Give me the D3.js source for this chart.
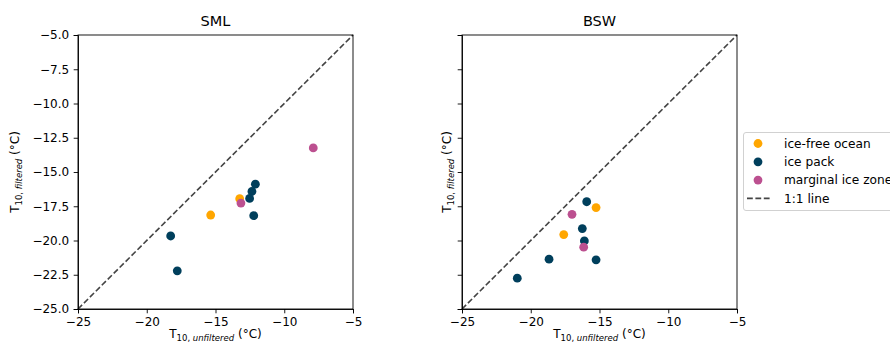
<!DOCTYPE html>
<html>
<head>
<meta charset="utf-8">
<script src="https://cdn.jsdelivr.net/npm/d3@7"></script>
<style>
  body { margin: 0; background: #fff; }
  text { font-family: "DejaVu Sans", sans-serif; fill: #000; }
</style>
</head>
<body>
<svg id="chart" width="890" height="348"></svg>
<script>
// categories and colours
var categories = ["ice-free ocean", "ice pack", "marginal ice zone"];
var catColors = ["#ffa600", "#003f5c", "#bc5090"];

// SML panel: [unfiltered, filtered, category]
var smlX = [-15.35, -13.24, -12.1, -12.35, -12.52, -12.22, -18.26, -17.78, -13.15, -7.89];
var smlY = [-18.14, -16.95, -15.89, -16.42, -16.93, -18.19, -19.67, -22.21, -17.27, -13.24];
var smlCat = [0, 0, 1, 1, 1, 1, 1, 1, 2, 2];

// BSW panel
var bswX = [-15.25, -17.6, -15.93, -16.25, -16.1, -18.67, -15.25, -20.98, -17.0, -16.15];
var bswY = [-17.6, -19.57, -17.17, -19.13, -20.03, -21.36, -21.41, -22.75, -18.09, -20.49];
var bswCat = [0, 0, 1, 1, 1, 1, 1, 1, 2, 2];

var xTicks = [-25, -20, -15, -10, -5];
var yTicks = [-25, -22.5, -20, -17.5, -15, -12.5, -10, -7.5, -5];
var domain = [-25, -5];

var svg = d3.select("#chart");
var minus = function (s) { return s.replace("-", "\u2212"); };

function panel(x0, title, xs, ys, cats, showYLabels) {
    var w = 275, h = 274, top = 35;
    var x = d3.scaleLinear().domain(domain).range([x0, x0 + w]);
    var y = d3.scaleLinear().domain(domain).range([top + h, top]);
    var g = svg.append("g");

    // 1:1 line
    g.append("line")
        .attr("x1", x(-25)).attr("y1", y(-25))
        .attr("x2", x(-5)).attr("y2", y(-5))
        .attr("stroke", "#444").attr("stroke-width", 1.6)
        .attr("stroke-dasharray", "5.8,2.6");

    // points
    g.selectAll("circle")
        .data(xs.map(function (d, i) { return {x: d, y: ys[i], c: cats[i]}; }))
        .enter().append("circle")
        .attr("cx", function (d) { return x(d.x); })
        .attr("cy", function (d) { return y(d.y); })
        .attr("r", 4.4)
        .attr("fill", function (d) { return catColors[d.c]; });

    var xAxis = g.append("g").attr("transform", "translate(0," + (top + h) + ")")
        .call(d3.axisBottom(x).tickValues(xTicks).tickSize(4.3).tickPadding(4)
            .tickFormat(function (d) { return minus(d3.format("d")(d)); }));
    var yAxis = g.append("g").attr("transform", "translate(" + x0 + ",0)")
        .call(d3.axisLeft(y).tickValues(yTicks).tickSize(4.3).tickPadding(4.5)
            .tickFormat(function (d) { return showYLabels ? minus(d3.format(".1f")(d)) : ""; }));
    [xAxis, yAxis].forEach(function (a) {
        a.selectAll("text").style("font-size", "12px").attr("fill", "#000");
        a.select(".domain").attr("stroke", "#000").attr("stroke-width", 0.9);
        a.selectAll(".tick line").attr("stroke", "#000").attr("stroke-width", 0.9);
    });
    // box
    g.append("rect").attr("x", x0).attr("y", top).attr("width", w).attr("height", h)
        .attr("fill", "none").attr("stroke", "#000").attr("stroke-width", 0.9);

    g.append("text").attr("x", x0 + w / 2).attr("y", 26)
        .attr("text-anchor", "middle").style("font-size", "14.5px").text(title);

    var xl = g.append("text").attr("x", x0 + w / 2).attr("y", 338)
        .attr("text-anchor", "middle").style("font-size", "12px");
    xl.append("tspan").text("T");
    xl.append("tspan").attr("dy", 3).style("font-size", "8.5px").text("10, ");
    xl.append("tspan").style("font-size", "8.5px").style("font-style", "italic").text("unfiltered");
    xl.append("tspan").attr("dy", -3).text(" (\u00b0C)");

    var yx = showYLabels ? 19 : x0 - 11;
    var yl = g.append("text").attr("transform", "translate(" + yx + "," + (top + h / 2) + ") rotate(-90)")
        .attr("text-anchor", "middle").style("font-size", "12px");
    yl.append("tspan").text("T");
    yl.append("tspan").attr("dy", 3).style("font-size", "8.5px").text("10, ");
    yl.append("tspan").style("font-size", "8.5px").style("font-style", "italic").text("filtered");
    yl.append("tspan").attr("dy", -3).text(" (\u00b0C)");
}

panel(78, "SML", smlX, smlY, smlCat, true);
panel(462, "BSW", bswX, bswY, bswCat, false);

// legend
var lg = svg.append("g");
lg.append("rect").attr("x", 743.5).attr("y", 132.5).attr("width", 160).attr("height", 78)
    .attr("rx", 2.5).attr("fill", "#fff").attr("stroke", "#ccc").attr("stroke-width", 0.9);
categories.forEach(function (c, i) {
    var yy = 143.5 + i * 18.3;
    lg.append("circle").attr("cx", 758).attr("cy", yy).attr("r", 4.4).attr("fill", catColors[i]);
    lg.append("text").attr("x", 784).attr("y", yy + 4.3).style("font-size", "12.2px").text(c);
});
var ly = 143.5 + 3 * 18.3;
lg.append("line").attr("x1", 747).attr("x2", 771).attr("y1", ly).attr("y2", ly)
    .attr("stroke", "#444").attr("stroke-width", 1.6).attr("stroke-dasharray", "5.8,2.6");
lg.append("text").attr("x", 784).attr("y", ly + 4.3).style("font-size", "12.2px").text("1:1 line");
</script>
</body>
</html>
